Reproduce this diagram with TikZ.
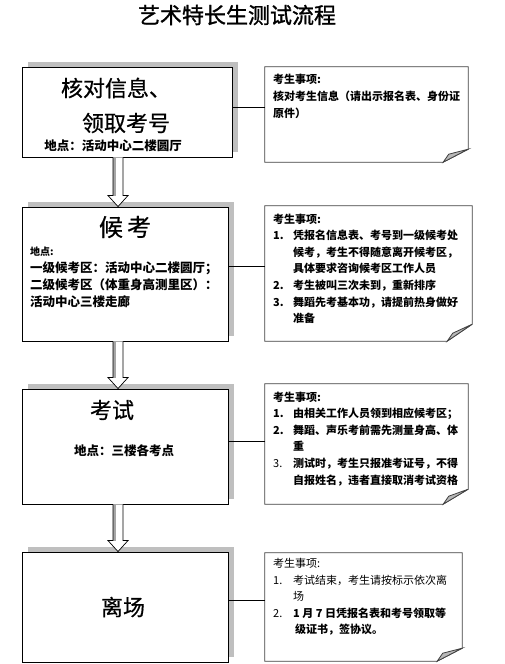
\documentclass[tikz,border=0pt]{standalone}
\usepackage{fontspec}
\setmainfont{Noto Sans CJK SC}
\usetikzlibrary{positioning,calc,shadows}

\newcommand\itm[1]{\makebox[20pt][l]{#1}}
\newcommand\cont{\hspace*{20pt}}

% outline of a note with a folded corner: #1 node, #2 fold height
\newcommand\memo[2]{%
  \draw[memoline] (#1.north west) -- (#1.north east) -- ([yshift=#2]#1.south east)
    -- ([xshift=-25pt]#1.south east) -- (#1.south west) -- cycle;
  \filldraw[memoline, fill=black!28] ([xshift=-25pt]#1.south east)
    .. controls ([xshift=-23pt,yshift=4pt]#1.south east) .. ([xshift=-19.5pt,yshift=8pt]#1.south east)
    -- ([yshift=#2]#1.south east) -- cycle;}

% hollow block arrow from #1 down to #2
\newcommand\flowarrow[2]{%
  \fill[white] ($(#1)+(-5,0)$) -- ($(#2)+(-5,-11)$) -- ($(#2)+(-10,-11)$) -- (#2)
    -- ($(#2)+(10,-11)$) -- ($(#2)+(5,-11)$) -- ($(#1)+(5,0)$) -- cycle;
  \fill[black!35] ($(#1)+(-5,0)$) rectangle ($(#2)+(-2.5,-11)$);
  \draw[line width=0.7pt] ($(#1)+(-5,0)$) -- ($(#2)+(-5,-11)$) -- ($(#2)+(-10,-11)$) -- (#2)
    -- ($(#2)+(10,-11)$) -- ($(#2)+(5,-11)$) -- ($(#1)+(5,0)$);}

\begin{document}
\begin{tikzpicture}[x=1pt,y=-1pt,
    stage/.style={rectangle, draw=black, line width=0.9pt, fill=white, inner sep=0pt,
                  drop shadow={shadow xshift=6pt, shadow yshift=5pt, fill=black!25, opacity=1}},
    memo/.style={rectangle, inner sep=0pt},
    memoline/.style={draw=black!75, line width=0.8pt},
    head/.style={inner sep=0pt, font=\fontsize{22}{26}\selectfont\addfontfeatures{FakeBold=0.6}},
    place/.style={inner sep=0pt, font=\fontsize{12.5}{17}\selectfont\bfseries, align=left},
    notetext/.style={inner sep=0pt, anchor=north west, align=left,
                     font=\fontsize{11}{16.6}\selectfont\bfseries},
    link/.style={draw=black, line width=0.7pt}]
  \useasboundingbox (0,0) rectangle (505,664);

  \node[inner sep=0pt, font=\fontsize{22}{26}\selectfont\addfontfeatures{FakeBold=1.2}] (title) at (237,15) {艺术特长生测试流程};

  % stages
  \node[stage, minimum width=210pt, minimum height=90pt] (b1) at (127,112) {};
  \node[stage, minimum width=206pt, minimum height=134pt] (b2) at (125,274) {};
  \node[stage, minimum width=206pt, minimum height=115pt] (b3) at (125,446.5) {};
  \node[stage, minimum width=206pt, minimum height=110pt] (b4) at (125,607) {};

  \node[head] (h1a) at (116,88) {核对信息、};
  \node[head] (h1b) at (126,123) {领取考号};
  \node[place] (p1) at (113,146) {地点：活动中心二楼圆厅};

  \node[head, font=\fontsize{24}{28}\selectfont\addfontfeatures{FakeBold=0.6}] (h2) at (125,227) {候\,考};
  \node[place, anchor=west, font=\fontsize{10}{12}\selectfont\bfseries] (p2a) at (30,252) {地点:};
  \node[place, anchor=north west] (p2b) at (30,261.7)
    {一级候考区：活动中心二楼圆厅；\\二级候考区（体重身高测里区）：\\活动中心三楼走廊};

  \node[head] (h3) at (112,410) {考试};
  \node[place] (p3) at (124,451) {地点：三楼各考点};

  \node[head] (h4) at (123,607) {离场};

  % arrows between stages
  \coordinate (ax) at (118,0);
  \coordinate (a1t) at (b1.south -| ax);
  \coordinate (a1b) at (b2.north -| ax);
  \coordinate (a2t) at (b2.south -| ax);
  \coordinate (a2b) at (b3.north -| ax);
  \coordinate (a3t) at (b3.south -| ax);
  \coordinate (a3b) at (b4.north -| ax);
  \flowarrow{a1t}{a1b}
  \flowarrow{a2t}{a2b}
  \flowarrow{a3t}{a3b}

  % notes
  \node[memo, minimum width=203pt, minimum height=95pt] (n1) at (366.5,114.5) {};
  \node[memo, minimum width=207pt, minimum height=135pt] (n2) at (368.5,273.5) {};
  \node[memo, minimum width=203pt, minimum height=120pt] (n3) at (366.5,444) {};
  \node[memo, minimum width=197pt, minimum height=108pt] (n4) at (363.5,607) {};
  \memo{n1}{13pt}
  \memo{n2}{17pt}
  \memo{n3}{15pt}
  \memo{n4}{13pt}

  \node[notetext, font=\fontsize{11}{17}\selectfont\bfseries] (t1) at (273,73.5)
    {考生事项:\\核对考生信息（请出示报名表、身份证\\原件）};
  \node[notetext] (t2) at (273,213.5)
    {考生事项:\\\itm{1.}凭报名信息表、考号到一级候考处\\\cont 候考，考生不得随意离开候考区，\\
     \cont 具体要求咨询候考区工作人员\\\itm{2.}考生被叫三次未到，重新排序\\
     \itm{3.}舞蹈先考基本功，请提前热身做好\\\cont 准备};
  \node[notetext] (t3) at (273,391.5)
    {考生事项:\\\itm{1.}由相关工作人员领到相应候考区；\\\itm{2.}舞蹈、声乐考前需先测量身高、体\\
     \cont 重\\\itm{\mdseries 3.}测试时，考生只报准考证号，不得\\\cont 自报姓名，违者直接取消考试资格};
  \node[notetext, font=\fontsize{11}{16.5}\selectfont] (t4) at (273,558.5)
    {考生事项:\\\itm{1.}考试结束，考生请按标示依次离\\\cont 场\\
     \itm{2.}\textbf{1 月 7 日凭报名表和考号领取等}\\\cont\hspace*{2pt}\textbf{级证书，签协议。}};

  % links from stages to notes
  \draw[link] ([yshift=5pt]b1.east) -- ([yshift=5pt]b1.east -| n1.west);
  \draw[link] ([yshift=8pt]b2.east) -- ([yshift=8pt]b2.east -| n2.west);
  \draw[link] ([yshift=5.5pt]b3.east) -- ([yshift=5.5pt]b3.east -| n3.west);
  \draw[link] ([yshift=7pt]b4.east) -- ([yshift=7pt]b4.east -| n4.west);
\end{tikzpicture}
\end{document}
